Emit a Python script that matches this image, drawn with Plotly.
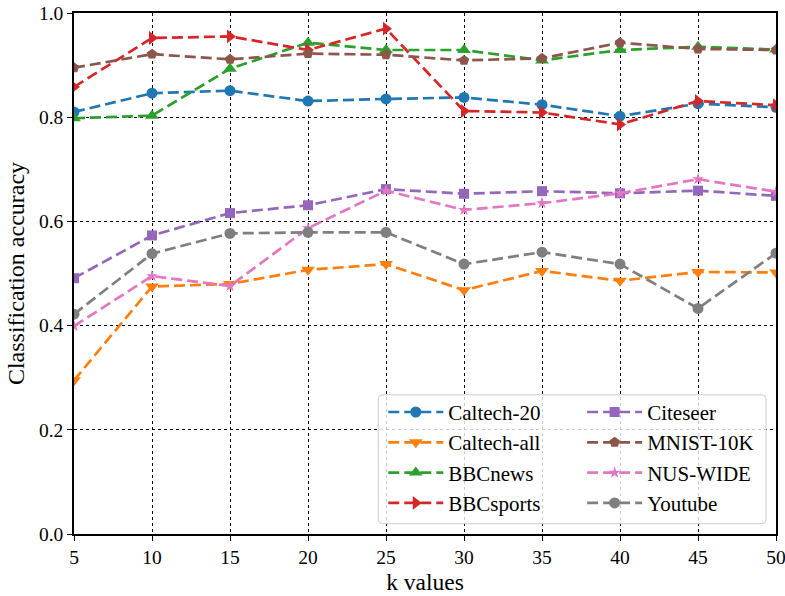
import plotly.graph_objects as go

k_values = [5, 10, 15, 20, 25, 30, 35, 40, 45, 50]

caltech20 = [0.810, 0.846, 0.851, 0.831, 0.835, 0.838, 0.824, 0.802, 0.826, 0.819]
caltech_all = [0.295, 0.475, 0.480, 0.507, 0.518, 0.468, 0.505, 0.486, 0.503, 0.502]
bbcnews = [0.798, 0.803, 0.893, 0.943, 0.929, 0.929, 0.909, 0.929, 0.935, 0.930]
bbcsports = [0.858, 0.952, 0.955, 0.929, 0.970, 0.812, 0.809, 0.786, 0.831, 0.823]
citeseer = [0.491, 0.573, 0.616, 0.631, 0.662, 0.653, 0.658, 0.654, 0.659, 0.649]
mnist10k = [0.895, 0.921, 0.911, 0.922, 0.920, 0.909, 0.913, 0.943, 0.931, 0.929]
nuswide = [0.399, 0.495, 0.476, 0.587, 0.659, 0.622, 0.635, 0.654, 0.681, 0.657]
youtube = [0.422, 0.538, 0.577, 0.579, 0.579, 0.518, 0.541, 0.518, 0.433, 0.539]

y_ticks = [0.0, 0.2, 0.4, 0.6, 0.8, 1.0]

series = [
    ("Caltech-20", caltech20, "#1f77b4", "circle", 11, "legend"),
    ("Caltech-all", caltech_all, "#ff7f0e", "triangle-down", 12, "legend"),
    ("BBCnews", bbcnews, "#2ca02c", "triangle-up", 12, "legend"),
    ("BBCsports", bbcsports, "#d62728", "triangle-right", 12, "legend"),
    ("Citeseer", citeseer, "#9467bd", "square", 10, "legend2"),
    ("MNIST-10K", mnist10k, "#8c564b", "pentagon", 11, "legend2"),
    ("NUS-WIDE", nuswide, "#e377c2", "star", 9, "legend2"),
    ("Youtube", youtube, "#7f7f7f", "circle", 11, "legend2"),
]

FONT = "Liberation Serif, Times New Roman, serif"

fig = go.Figure()
for i, (name, vals, color, sym, size, leg) in enumerate(series):
    fig.add_trace(go.Scatter(
        x=k_values, y=vals, name=name, mode="lines+markers",
        line=dict(color=color, width=2.7, dash="11px,5px"),
        marker=dict(symbol=sym, size=size, color=color, line=dict(width=0)),
        legend=leg, legendgroup=name,
    ))

W, H = 785, 596
ml, mr, mt, mb = 73.5, 9, 12.8, 61.7
pw = W - ml - mr
ph = H - mt - mb

def fx(px):
    return (px - ml) / pw

def fy(py):
    return (H - mb - py) / ph

axis_common = dict(
    showline=True, linecolor="black", linewidth=1.5, mirror=True,
    ticks="outside", ticklen=5, tickwidth=1.3, tickcolor="black",
    showgrid=True, gridcolor="black", gridwidth=1.3, griddash="dot",
    zeroline=False, automargin=False, ticklabeloverflow="allow",
    tickfont=dict(family=FONT, size=19.5, color="black"),
)

legend_common = dict(
    bgcolor="rgba(0,0,0,0)", borderwidth=0,
    font=dict(family=FONT, size=21, color="black"),
    xanchor="left", yanchor="top", itemwidth=55,
    tracegroupgap=0, itemclick=False,
)

# rounded legend frame
x0, x1 = fx(378), fx(766)
y0, y1 = fy(524), fy(395)
rx, ry = 4 / pw, 4 / ph
path = (f"M {x0+rx},{y0} L {x1-rx},{y0} Q {x1},{y0} {x1},{y0+ry} "
        f"L {x1},{y1-ry} Q {x1},{y1} {x1-rx},{y1} L {x0+rx},{y1} "
        f"Q {x0},{y1} {x0},{y1-ry} L {x0},{y0+ry} Q {x0},{y0} {x0+rx},{y0} Z")
fig.add_shape(type="path", path=path, xref="paper", yref="paper",
              fillcolor="rgba(255,255,255,0.8)",
              line=dict(color="#cccccc", width=1), layer="above")

fig.update_layout(
    width=W, height=H,
    margin=dict(l=ml, r=mr, t=mt, b=mb, pad=0),
    paper_bgcolor="white", plot_bgcolor="white",
    font=dict(family=FONT, color="black"),
    xaxis=dict(range=[5, 50], tickvals=k_values,
               title=dict(text="k values", font=dict(family=FONT, size=23.5), standoff=6),
               **axis_common),
    yaxis=dict(range=[0, 1], tickvals=y_ticks, tickformat=".1f",
               title=dict(text="Classification accuracy", font=dict(family=FONT, size=24), standoff=8),
               **axis_common),
    legend=dict(x=fx(383), y=fy(392), **legend_common),
    legend2=dict(x=fx(582), y=fy(392), **legend_common),
)

fig.write_html("out.html", config={"displayModeBar": False},
               post_script="document.body.style.margin='0';")
